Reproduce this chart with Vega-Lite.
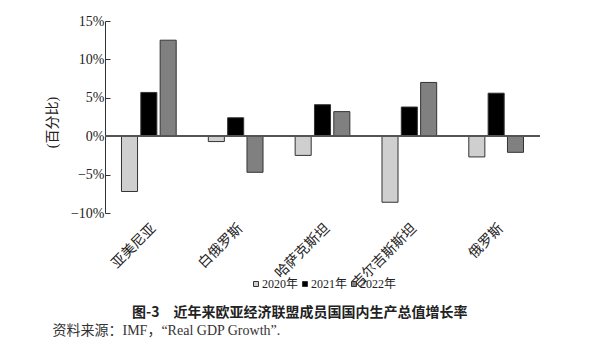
{
  "$schema": "https://vega.github.io/schema/vega-lite/v6.json",
  "width": 435,
  "height": 192,
  "autosize": {"type": "none"},
  "padding": {"left": 105, "top": 21, "right": 66, "bottom": 143},
  "background": "white",
  "config": {
    "view": {"stroke": null},
    "font": "Liberation Serif, Noto Sans CJK SC",
    "axisY": {"labelOverlap": false, "labelFlush": false}
  },
  "title": {
    "text": "图-3　近年来欧亚经济联盟成员国国内生产总值增长率",
    "orient": "bottom",
    "anchor": "start",
    "frame": "group",
    "dx": 27,
    "offset": -31,
    "font": "Noto Sans CJK SC",
    "fontSize": 14,
    "fontWeight": "bold",
    "color": "#222"
  },
  "data": {
    "values": [
      {"country": "亚美尼亚", "year": "2020年", "value": -7.2},
      {"country": "亚美尼亚", "year": "2021年", "value": 5.7},
      {"country": "亚美尼亚", "year": "2022年", "value": 12.5},
      {"country": "白俄罗斯", "year": "2020年", "value": -0.7},
      {"country": "白俄罗斯", "year": "2021年", "value": 2.4},
      {"country": "白俄罗斯", "year": "2022年", "value": -4.7},
      {"country": "哈萨克斯坦", "year": "2020年", "value": -2.5},
      {"country": "哈萨克斯坦", "year": "2021年", "value": 4.1},
      {"country": "哈萨克斯坦", "year": "2022年", "value": 3.2},
      {"country": "吉尔吉斯斯坦", "year": "2020年", "value": -8.6},
      {"country": "吉尔吉斯斯坦", "year": "2021年", "value": 3.8},
      {"country": "吉尔吉斯斯坦", "year": "2022年", "value": 7.0},
      {"country": "俄罗斯", "year": "2020年", "value": -2.7},
      {"country": "俄罗斯", "year": "2021年", "value": 5.6},
      {"country": "俄罗斯", "year": "2022年", "value": -2.1}
    ]
  },
  "layer": [
    {
      "mark": {"type": "bar", "stroke": "#333", "strokeWidth": 1},
      "encoding": {
        "x": {
          "field": "country",
          "type": "nominal",
          "sort": ["亚美尼亚", "白俄罗斯", "哈萨克斯坦", "吉尔吉斯斯坦", "俄罗斯"],
          "scale": {"paddingInner": 0.37, "paddingOuter": 0.19},
          "axis": {
            "title": "资料来源：IMF，“Real GDP Growth”.",
            "titleX": -53,
            "titleY": 117,
            "titleAlign": "left",
            "titleAnchor": null,
            "titleBaseline": "middle",
            "titleFont": "Liberation Serif, Noto Sans CJK SC",
            "titleFontSize": 14,
            "titleFontWeight": "normal",
            "titleColor": "#333",
            "labelAngle": -45,
            "labelFont": "Liberation Serif, Noto Sans CJK SC",
            "labelFontSize": 14,
            "labelColor": "#222",
            "labelPadding": 8,
            "domain": false,
            "ticks": false
          }
        },
        "xOffset": {
          "field": "year",
          "type": "nominal",
          "scale": {"paddingInner": 0.17, "paddingOuter": 0}
        },
        "y": {
          "field": "value",
          "type": "quantitative",
          "scale": {"domain": [-10, 15], "nice": false},
          "axis": {
            "title": "(百分比)",
            "titleFont": "Liberation Serif, Noto Sans CJK SC",
            "titleFontSize": 14,
            "titleFontWeight": "normal",
            "titleColor": "#222",
            "titleX": -53,
            "titleY": 101,
            "titleAngle": 270,
            "titleAlign": "center",
            "titleBaseline": "middle",
            "titleAnchor": null,
            "values": [-10, -5, 0, 5, 10, 15],
            "tickCount": 6,
            "labelExpr": "replace(datum.value + '%', '-', '−')",
            "labelOverlap": false,
            "labelFlush": false,
            "labelFont": "Liberation Serif",
            "labelFontSize": 14,
            "labelColor": "#222",
            "labelPadding": 6,
            "tickSize": -5,
            "tickColor": "#333",
            "domainColor": "#333",
            "grid": false
          }
        },
        "fill": {
          "field": "year",
          "type": "nominal",
          "scale": {"domain": ["2020年", "2021年", "2022年"], "range": ["#cfcfcf", "#000000", "#808080"]},
          "legend": {
            "title": null,
            "orient": "none",
            "direction": "horizontal",
            "legendX": 145,
            "legendY": 257,
            "symbolType": "square",
            "symbolSize": 25,
            "symbolStrokeColor": "#333",
            "symbolStrokeWidth": 1,
            "labelFont": "Liberation Serif, Noto Sans CJK SC",
            "labelFontSize": 12,
            "labelColor": "#222",
            "labelOffset": 0,
            "columnPadding": 0
          }
        }
      }
    },
    {
      "mark": {"type": "rule", "color": "#555", "strokeWidth": 1},
      "encoding": {
        "y": {
          "datum": 0,
          "type": "quantitative",
          "axis": {
            "title": "(百分比)",
            "titleFont": "Liberation Serif, Noto Sans CJK SC",
            "titleFontSize": 14,
            "titleFontWeight": "normal",
            "titleColor": "#222",
            "titleX": -53,
            "titleY": 101,
            "titleAngle": 270,
            "titleAlign": "center",
            "titleBaseline": "middle",
            "titleAnchor": null,
            "values": [-10, -5, 0, 5, 10, 15],
            "tickCount": 6,
            "labelExpr": "replace(datum.value + '%', '-', '−')",
            "labelOverlap": false,
            "labelFlush": false,
            "labelFont": "Liberation Serif",
            "labelFontSize": 14,
            "labelColor": "#222",
            "labelPadding": 6,
            "tickSize": -5,
            "tickColor": "#333",
            "domainColor": "#333",
            "grid": false
          }
        }
      }
    }
  ]
}
